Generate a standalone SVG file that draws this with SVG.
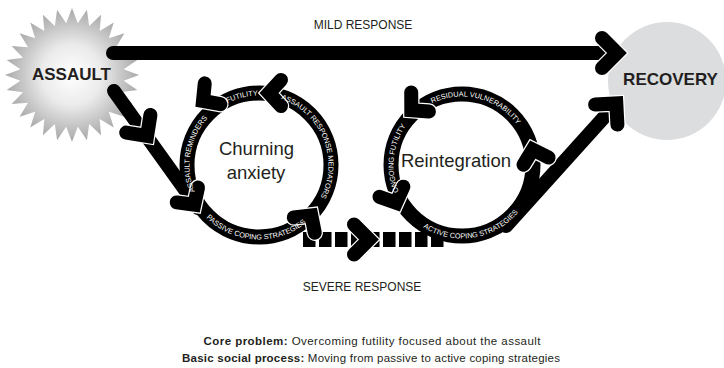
<svg xmlns="http://www.w3.org/2000/svg" width="724" height="368" viewBox="0 0 724 368">
<style>
.halo{fill:none;stroke:#fff;stroke-width:16.5;stroke-linecap:round;stroke-linejoin:miter;}
.chev{fill:none;stroke:#000;stroke-width:14;stroke-linecap:round;stroke-linejoin:miter;}
.ring{fill:none;stroke:#000;stroke-width:15;}
.conn{fill:none;stroke:#000;stroke-width:14;stroke-linecap:round;}
.rt{font-family:"Liberation Sans",Arial,sans-serif;font-size:7.3px;fill:#fff;}
.lab{font-family:"Liberation Sans",Arial,sans-serif;font-size:12px;fill:#231f20;text-anchor:middle;}
.big{font-family:"Liberation Sans",Arial,sans-serif;font-size:17px;font-weight:bold;fill:#231f20;text-anchor:middle;}
.mid{font-family:"Liberation Sans",Arial,sans-serif;font-size:18.5px;fill:#231f20;text-anchor:middle;}
.foot{font-family:"Liberation Sans",Arial,sans-serif;font-size:11.5px;fill:#231f20;text-anchor:middle;}
</style>
<defs>
<radialGradient id="burst" cx="72" cy="75" r="67" gradientUnits="userSpaceOnUse">
<stop offset="0" stop-color="#ffffff"/>
<stop offset="0.45" stop-color="#ebebeb"/>
<stop offset="1" stop-color="#a8a8a8"/>
</radialGradient>
<path id="chv" d="M -25 -15 L -10 0 L -25 15"/>
<path id="chs" d="M -22 -13 L -10 0 L -22 13"/>
<path id="p-fut" d="M 192.19 145.85 A 69.5 69.5 0 0 1 308.99 116.72"/>
<path id="p-arm" d="M 238.68 98.54 A 69.5 69.5 0 0 1 290.55 226.92"/>
<path id="p-ar" d="M 241.01 232.13 A 69.5 69.5 0 0 1 265.06 95.76"/>
<path id="p-pcs" d="M 184.55 167.60 A 74.5 74.5 0 0 0 332.78 175.37"/>
<path id="p-rv" d="M 397.23 142.70 A 68.5 68.5 0 0 1 529.66 175.71"/>
<path id="p-of" d="M 448.93 232.24 A 68.5 68.5 0 0 1 463.20 96.51"/>
<path id="p-acs" d="M 390.68 182.78 A 73.5 73.5 0 0 0 535.32 159.87"/>
</defs>

<g id="assault">
<polygon fill="url(#burst)" points="72,8 77.82,23.33 86.91,9.68 89.17,25.92 101.07,14.64 99.67,30.97 113.77,22.62 108.77,38.23 124.38,33.23 116.03,47.33 132.36,45.93 121.08,57.83 137.32,60.09 123.67,69.18 139,75 123.67,80.82 137.32,89.91 121.08,92.17 132.36,104.07 116.03,102.67 124.38,116.77 108.77,111.77 113.77,127.38 99.67,119.03 101.07,135.36 89.17,124.08 86.91,140.32 77.82,126.67 72,142 66.18,126.67 57.09,140.32 54.83,124.08 42.93,135.36 44.33,119.03 30.23,127.38 35.23,111.77 19.62,116.77 27.97,102.67 11.64,104.07 22.92,92.17 6.68,89.91 20.33,80.82 5,75 20.33,69.18 6.68,60.09 22.92,57.83 11.64,45.93 27.97,47.33 19.62,33.23 35.23,38.23 30.23,22.62 44.33,30.97 42.93,14.64 54.83,25.92 57.09,9.68 66.18,23.33"/>
</g>

<g id="recovery">
<circle cx="667" cy="81" r="59" fill="#dcdddf"/>
</g>

<g id="connectors">
<line class="conn" x1="113" y1="53" x2="617" y2="53" stroke-width="13"/>
<line class="conn" x1="114" y1="91" x2="198" y2="208"/>
<line class="conn" x1="506" y1="226" x2="616" y2="104"/>
<line x1="303" y1="239.5" x2="446" y2="239.5" stroke="#000" stroke-width="15" stroke-dasharray="12.5 3.5"/>
</g>

<g id="churning">
<circle class="ring" cx="259" cy="165" r="72"/>
<g transform="translate(259,93) rotate(180)"><use href="#chs" class="halo"/><use href="#chs" class="chev"/></g>
<g transform="translate(195,107) rotate(143)"><use href="#chs" class="halo"/><use href="#chs" class="chev"/></g>
<g transform="translate(200,213) rotate(55)"><use href="#chs" class="halo"/><use href="#chs" class="chev"/></g>
<g transform="translate(317.2,207.3) rotate(-54)"><use href="#chs" class="halo"/><use href="#chs" class="chev"/></g>
<text class="rt"><textPath href="#p-fut" startOffset="50%" text-anchor="middle">FUTILITY</textPath></text>
<text class="rt"><textPath href="#p-arm" startOffset="50%" text-anchor="middle">ASSAULT RESPONSE MEDIATORS</textPath></text>
<text class="rt"><textPath href="#p-ar" startOffset="50%" text-anchor="middle">ASSAULT REMINDERS</textPath></text>
<text class="rt"><textPath href="#p-pcs" startOffset="50%" text-anchor="middle">PASSIVE COPING STRATEGIES</textPath></text>
<text class="mid" x="256.5" y="155">Churning</text>
<text class="mid" x="256" y="179">anxiety</text>
</g>

<g id="reintegration">
<circle class="ring" cx="462" cy="165" r="71"/>
<g transform="translate(530,140) rotate(-106)"><use href="#chs" class="halo"/><use href="#chs" class="chev"/></g>
<g transform="translate(404,117) rotate(137)"><use href="#chs" class="halo"/><use href="#chs" class="chev"/></g>
<g transform="translate(400,212) rotate(67)"><use href="#chs" class="halo"/><use href="#chs" class="chev"/></g>
<text class="rt"><textPath href="#p-rv" startOffset="50%" text-anchor="middle">RESIDUAL VULNERABILITY</textPath></text>
<text class="rt"><textPath href="#p-of" startOffset="50%" text-anchor="middle">ONGOING FUTILITY</textPath></text>
<text class="rt"><textPath href="#p-acs" startOffset="50%" text-anchor="middle">ACTIVE COPING STRATEGIES</textPath></text>
<text class="mid" x="456" y="167" font-size="18">Reintegration</text>
</g>

<g id="arrowheads">
<g transform="translate(627,53)"><use href="#chv" class="halo"/><use href="#chv" class="chev"/></g>
<g transform="translate(623,96) rotate(-48)"><use href="#chv" class="halo"/><use href="#chv" class="chev"/></g>
<g transform="translate(153,144) rotate(54)"><use href="#chv" class="halo"/><use href="#chv" class="chev"/></g>
<g transform="translate(379,239.5)"><use href="#chv" class="halo"/><use href="#chv" class="chev"/></g>
</g>

<g id="labels">
<text class="big" x="71.5" y="80">ASSAULT</text>
<text class="big" x="670.5" y="85">RECOVERY</text>
<text class="lab" x="363" y="29">MILD RESPONSE</text>
<text class="lab" x="362" y="291">SEVERE RESPONSE</text>
<text class="foot" x="372" y="345" textLength="337" lengthAdjust="spacing"><tspan font-weight="bold">Core problem:</tspan> Overcoming futility focused about the assault</text>
<text class="foot" x="371" y="362" textLength="378" lengthAdjust="spacing"><tspan font-weight="bold">Basic social process:</tspan> Moving from passive to active coping strategies</text>
</g>
</svg>
